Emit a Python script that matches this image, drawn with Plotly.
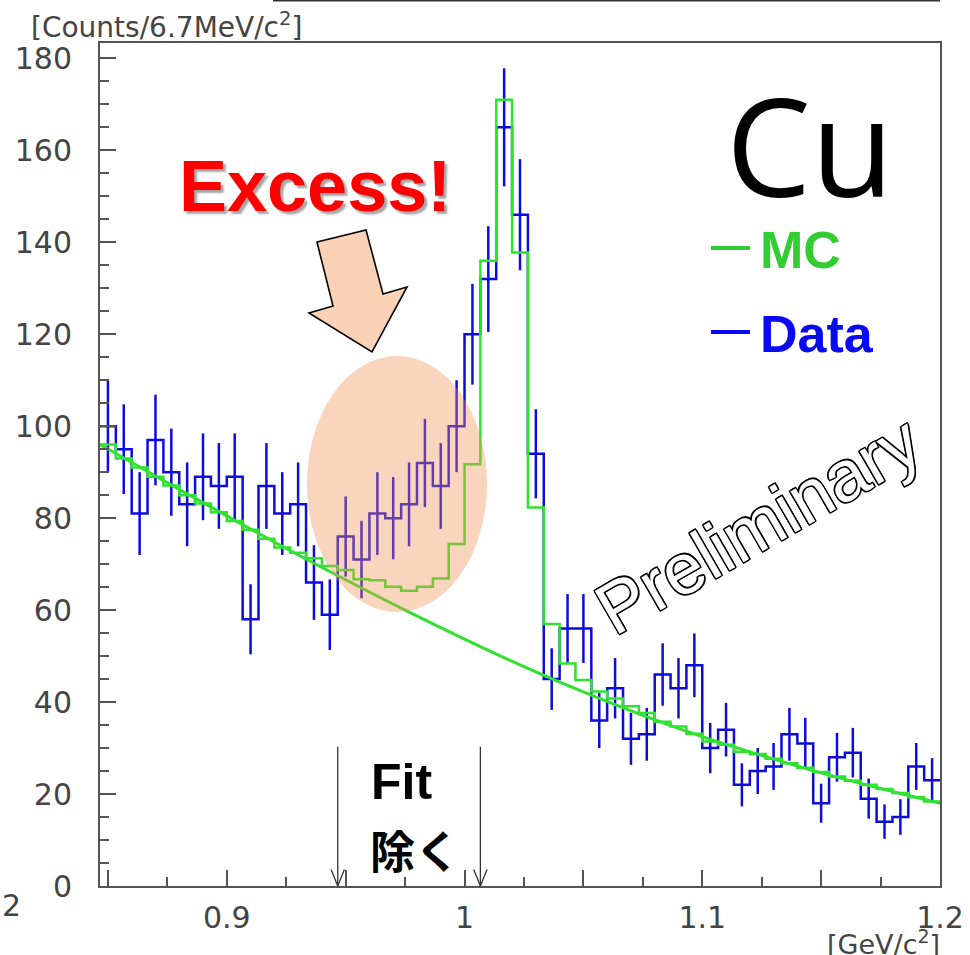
import numpy as np
import plotly.graph_objects as go

# ---- histogram binning: 53 bins of 6.67 MeV/c^2 from 0.8467 to 1.2 GeV/c^2 ----
x_lo = 1.2 - 53 * 0.02 / 3
bin_w = 0.02 / 3
n_bins = 53

# measured counts per bin (Cu target)
data_counts = [100, 95, 81, 97, 90, 83, 89, 87, 89, 58,
               87, 81, 83, 66, 59, 76, 71, 81, 80, 83,
               92, 87, 100, 120, 132, 165, 146, 94, 45, 56,
               56, 36, 43, 32, 33, 46, 43, 48, 30, 34,
               22, 25, 26, 33, 31, 18, 28, 29, 19, 14,
               15, 26, 23]

# simulated spectrum (background + phi peak)
mc_counts = [96.0, 93.0, 91.0, 89.0, 87.1, 85.0, 83.2, 81.3, 79.4, 77.5,
             75.5, 73.6, 72.5, 71.3, 69.6, 68.7, 66.7, 66.5, 65.1, 64.2,
             65.1, 66.9, 74.4, 91.7, 136.0, 171.0, 137.8, 82.3, 57.0, 48.4,
             44.8, 42.3, 40.8, 39.1, 37.6, 35.7, 34.7, 33.1, 31.4, 30.7,
             29.2, 28.7, 27.7, 26.7, 25.7, 24.8, 23.8, 22.9, 22.0, 21.1,
             20.2, 19.3, 18.4]

# smooth background curve
bg_mass = [0.8467, 0.875, 0.900, 0.925, 0.950, 0.975, 1.000, 1.025,
           1.050, 1.075, 1.100, 1.125, 1.150, 1.175, 1.200]
bg_counts = [96.0, 87.7, 80.5, 73.4, 66.6, 60.0, 53.7, 47.7,
             42.2, 37.1, 32.5, 28.4, 24.6, 21.2, 18.0]

# fit-exclusion window edges (bin edges 15 and 24)
fit_excl = [x_lo + 15 * bin_w, x_lo + 24 * bin_w]
fit_arrow_top = 30.3

x_tick_vals = [0.85, 0.9, 0.95, 1.0, 1.05, 1.1, 1.15, 1.2]
x_tick_text = ["", "0.9", "", "1", "", "1.1", "", "1.2"]
x_minor_vals = [0.875, 0.925, 0.975, 1.025, 1.075, 1.125, 1.175]

edges = [x_lo + i * bin_w for i in range(n_bins + 1)]
centers = [x_lo + (i + 0.5) * bin_w for i in range(n_bins)]

BLUE = "#0c0cdc"
GREEN = "#2fe22f"
AX = "#555555"

W, H = 970, 955
L, R, T, B = 100, 30, 43, 69


def px(x):
    return (x - L) / (W - L - R)


def py(y):
    return (H - B - y) / (H - T - B)


fig = go.Figure()

# data histogram
fig.add_trace(go.Scatter(
    x=edges, y=data_counts + [data_counts[-1]], mode="lines",
    line=dict(color=BLUE, width=2.5, shape="hv"), hoverinfo="skip"))
fig.add_trace(go.Scatter(
    x=centers, y=data_counts, mode="markers",
    marker=dict(size=1, color=BLUE),
    error_y=dict(type="data", array=list(np.sqrt(data_counts)),
                 width=0, thickness=2.5, color=BLUE)))

# MC histogram
fig.add_trace(go.Scatter(
    x=edges, y=mc_counts + [mc_counts[-1]], mode="lines",
    line=dict(color=GREEN, width=2.5, shape="hv"), hoverinfo="skip"))

# background curve
fig.add_trace(go.Scatter(
    x=bg_mass, y=bg_counts, mode="lines",
    line=dict(color=GREEN, width=3, shape="spline"), hoverinfo="skip"))

shapes = []
# excess region highlight
shapes.append(dict(type="circle", xref="paper", yref="paper",
                   x0=px(307), x1=px(487), y0=py(612), y1=py(356),
                   fillcolor="rgb(242,145,85)", opacity=0.38,
                   line=dict(width=0), layer="above"))
# block arrow pointing to the excess
arrow_pts = [(317, 242), (366, 230), (383, 294), (407, 287),
             (372, 352), (309, 313), (333, 306)]
path = "M " + " L ".join(f"{px(a):.4f},{py(b):.4f}" for a, b in arrow_pts) + " Z"
shapes.append(dict(type="path", xref="paper", yref="paper", path=path,
                   fillcolor="#fad3b6", line=dict(color="black", width=1.6),
                   layer="above"))
# fit-exclusion arrows
for xe in fit_excl:
    shapes.append(dict(type="line", xref="x", yref="y", x0=xe, x1=xe,
                       y0=0, y1=fit_arrow_top, line=dict(color="#333", width=1.3)))
    for s in (-1, 1):
        shapes.append(dict(type="line", xref="x", yref="y",
                           x0=xe + s * 0.0028, x1=xe, y0=3.6, y1=0,
                           line=dict(color="#333", width=1.3)))
# legend dashes
shapes.append(dict(type="line", xref="paper", yref="paper",
                   x0=px(711), x1=px(750), y0=py(248), y1=py(248),
                   line=dict(color="#33cc33", width=4)))
shapes.append(dict(type="line", xref="paper", yref="paper",
                   x0=px(711), x1=px(750), y0=py(332), y1=py(332),
                   line=dict(color="#0a0af0", width=4)))
# rule across the top
shapes.append(dict(type="line", xref="paper", yref="paper",
                   x0=px(273), x1=px(940), y0=py(0.5), y1=py(0.5),
                   line=dict(color="#333", width=2)))

outline = ", ".join(f"{a}px {b}px 0 #000" for a, b in
                    [(-1.3, -1.3), (1.3, -1.3), (-1.3, 1.3), (1.3, 1.3),
                     (0, 1.4), (0, -1.4), (1.4, 0), (-1.4, 0)])

ann = [
    dict(text="[Counts/6.7MeV/c<sup>2</sup>]", x=px(29), y=py(25),
         xanchor="left", yanchor="middle",
         font=dict(family="DejaVu Sans", size=28, color="#444")),
    dict(text="[GeV/c<sup>2</sup>]", x=px(942), y=py(942),
         xanchor="right", yanchor="middle",
         font=dict(family="DejaVu Sans", size=27, color="#444")),
    dict(text="2", x=px(11), y=py(905), xanchor="center", yanchor="middle",
         font=dict(family="DejaVu Sans", size=30, color="#444")),
    dict(text="<b>Excess!</b>", x=px(315), y=py(186),
         xanchor="center", yanchor="middle",
         font=dict(family="Liberation Sans", size=72, color="#ff0000",
                   shadow="3px 3px 2px rgba(0,0,0,0.35)")),
    dict(text="Cu", x=px(810), y=py(145), xanchor="center", yanchor="middle",
         font=dict(family="Open Sans", size=135, color="black")),
    dict(text="<b>MC</b>", x=px(758), y=py(250), xanchor="left", yanchor="middle",
         font=dict(family="Liberation Sans", size=52, color="#33cc33")),
    dict(text="<b>Data</b>", x=px(758), y=py(334), xanchor="left", yanchor="middle",
         font=dict(family="Liberation Sans", size=52, color="#0a0af0")),
    dict(text="<b>Fit</b>", x=px(369), y=py(782), xanchor="left", yanchor="middle",
         font=dict(family="Liberation Sans", size=50, color="black")),
    dict(text="<b>除く</b>", x=px(368), y=py(849), xanchor="left", yanchor="middle",
         font=dict(family="Noto Sans CJK JP", size=45, color="black")),
    dict(text="Preliminary", x=px(758), y=py(525), xanchor="center", yanchor="middle",
         textangle=-30,
         font=dict(family="Liberation Sans", size=72,
                   color="white", shadow=outline)),
]
for a in ann:
    a.update(xref="paper", yref="paper", showarrow=False)

fig.update_layout(
    width=W, height=H, margin=dict(l=L, r=R, t=T, b=B, autoexpand=False),
    paper_bgcolor="white", plot_bgcolor="white", showlegend=False,
    shapes=shapes, annotations=ann,
    xaxis=dict(range=[x_lo, 1.2], showgrid=False, zeroline=False,
               automargin=False,
               showline=True, linecolor=AX, linewidth=2, mirror=True,
               tickmode="array", tickvals=x_tick_vals, ticktext=x_tick_text,
               ticks="inside", ticklen=16, tickwidth=1.5, tickcolor=AX,
               minor=dict(tickvals=x_minor_vals, ticks="inside", ticklen=9,
                          tickwidth=1.5, tickcolor=AX),
               tickfont=dict(family="DejaVu Sans", size=30, color="#444"),
               ticklabelstandoff=4),
    yaxis=dict(range=[0, 183.34], showgrid=False, zeroline=False,
               automargin=False,
               showline=True, linecolor=AX, linewidth=2, mirror=True,
               tickmode="linear", tick0=0, dtick=20,
               ticks="inside", ticklen=16, tickwidth=1.5, tickcolor=AX,
               minor=dict(dtick=5, ticks="inside", ticklen=9,
                          tickwidth=1.5, tickcolor=AX),
               tickfont=dict(family="DejaVu Sans", size=30, color="#444"),
               ticklabelstandoff=20),
)

fig.write_html("out.html")
